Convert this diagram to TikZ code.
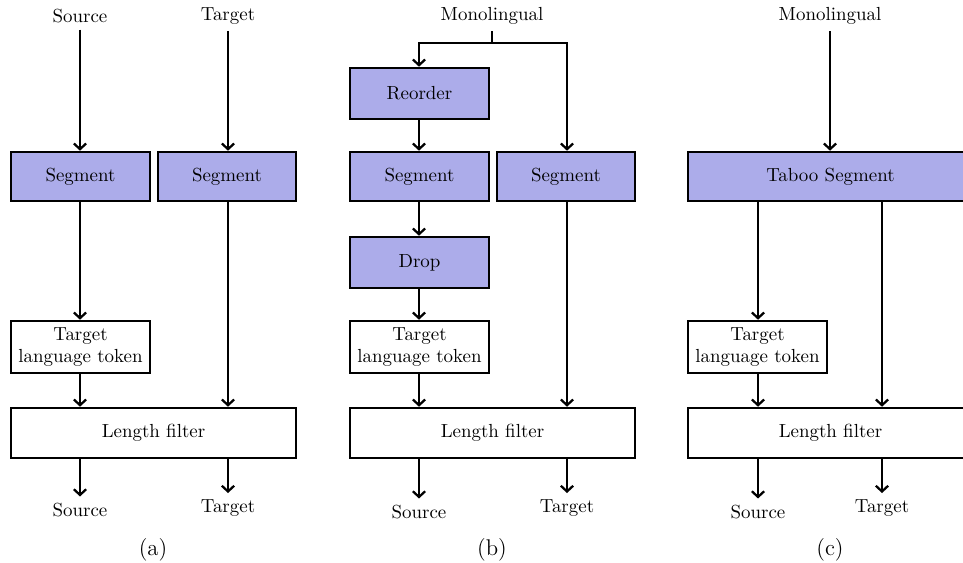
\documentclass[tikz,border=0pt]{standalone}
\usetikzlibrary{arrows.meta}
\definecolor{boxfill}{RGB}{172,172,234}
\newcommand\bx[7]{\node[#6, minimum width={(#4-#2)*0.528pt}, minimum height={(#5-#3)*0.528pt}] (#1) at ({(#2+#4)/2},{(#3+#5)/2}) {#7};}
\begin{document}
\begin{tikzpicture}[x=0.528pt,y=-0.528pt,
  box/.style={draw, line width=1.35pt, inner sep=0pt, align=center, font=\normalsize},
  cbox/.style={box, fill=boxfill},
  wbox/.style={box, fill=white},
  lbl/.style={inner sep=3.3pt},
  subcap/.style={font=\large},
  arr/.style={line width=1.2pt, -{Straight Barb[length=3pt,width=6.5pt,line width=1.2pt]}},
  ln/.style={line width=1.2pt}]
\clip (0,0) rectangle (963,563);
\useasboundingbox (0,0) rectangle (963,563);
% ---------- (a)
\node[lbl] (aS) at (80,16) {Source};
\node[lbl] (aT) at (228,16) {Target};
\bx{aseg1}{11}{152}{150}{201}{cbox}{Segment}
\bx{aseg2}{158}{152}{296}{201}{cbox}{Segment}
\bx{atok}{11}{321}{150}{373}{wbox}{Target\\language token}
\bx{alf}{11}{408}{296}{458}{wbox}{Length filter}
\node[lbl] (aoS) at (80,510) {Source};
\node[lbl] (aoT) at (228,508) {Target};
\node[subcap] (acap) at (153,550) {(a)};
\draw[arr] (aS.south) -- (aS.south |- aseg1.north);
\draw[arr] (aT.south) -- (aT.south |- aseg2.north);
\draw[arr] (aS.south |- aseg1.south) -- (aS.south |- atok.north);
\draw[arr] (aS.south |- atok.south) -- (aS.south |- alf.north);
\draw[arr] (aT.south |- aseg2.south) -- (aT.south |- alf.north);
\draw[arr] (aoS.north |- alf.south) -- (aoS.north);
\draw[arr] (aoT.north |- alf.south) -- (aoT.north);
% ---------- (b)
\node[lbl] (bM) at (492,16) {Monolingual};
\coordinate (bL) at (419,0);
\coordinate (bR) at (567,0);
\coordinate (bJ) at (492,43);
\bx{breo}{350}{68}{489}{119}{cbox}{Reorder}
\bx{bseg1}{350}{152}{489}{201}{cbox}{Segment}
\bx{bseg2}{497}{152}{635}{201}{cbox}{Segment}
\bx{bdrop}{350}{237}{489}{288}{cbox}{Drop}
\bx{btok}{350}{321}{489}{373}{wbox}{Target\\language token}
\bx{blf}{350}{408}{635}{458}{wbox}{Length filter}
\node[lbl] (boS) at (419,512) {Source};
\node[lbl] (boT) at (567,508) {Target};
\node[subcap] (bcap) at (492,550) {(b)};
\draw[ln] (bM.south) -- (bJ);
\draw[arr] (bJ) -| (bL |- breo.north);
\draw[arr] (bJ) -| (bR |- bseg2.north);
\draw[arr] (bL |- breo.south) -- (bL |- bseg1.north);
\draw[arr] (bL |- bseg1.south) -- (bL |- bdrop.north);
\draw[arr] (bL |- bdrop.south) -- (bL |- btok.north);
\draw[arr] (bL |- btok.south) -- (bL |- blf.north);
\draw[arr] (bR |- bseg2.south) -- (bR |- blf.north);
\draw[arr] (boS.north |- blf.south) -- (boS.north);
\draw[arr] (boT.north |- blf.south) -- (boT.north);
% ---------- (c)
\node[lbl] (cM) at (830,16) {Monolingual};
\coordinate (cL) at (758,0);
\coordinate (cR) at (882,0);
\bx{ctab}{688}{152}{973}{201}{cbox}{Taboo Segment}
\bx{ctok}{688}{321}{827}{373}{wbox}{Target\\language token}
\bx{clf}{688}{408}{973}{458}{wbox}{Length filter}
\node[lbl] (coS) at (758,512) {Source};
\node[lbl] (coT) at (882,508) {Target};
\node[subcap] (ccap) at (830,550) {(c)};
\draw[arr] (cM.south) -- (cM.south |- ctab.north);
\draw[arr] (cL |- ctab.south) -- (cL |- ctok.north);
\draw[arr] (cL |- ctok.south) -- (cL |- clf.north);
\draw[arr] (cR |- ctab.south) -- (cR |- clf.north);
\draw[arr] (coS.north |- clf.south) -- (coS.north);
\draw[arr] (coT.north |- clf.south) -- (coT.north);
\end{tikzpicture}
\end{document}
